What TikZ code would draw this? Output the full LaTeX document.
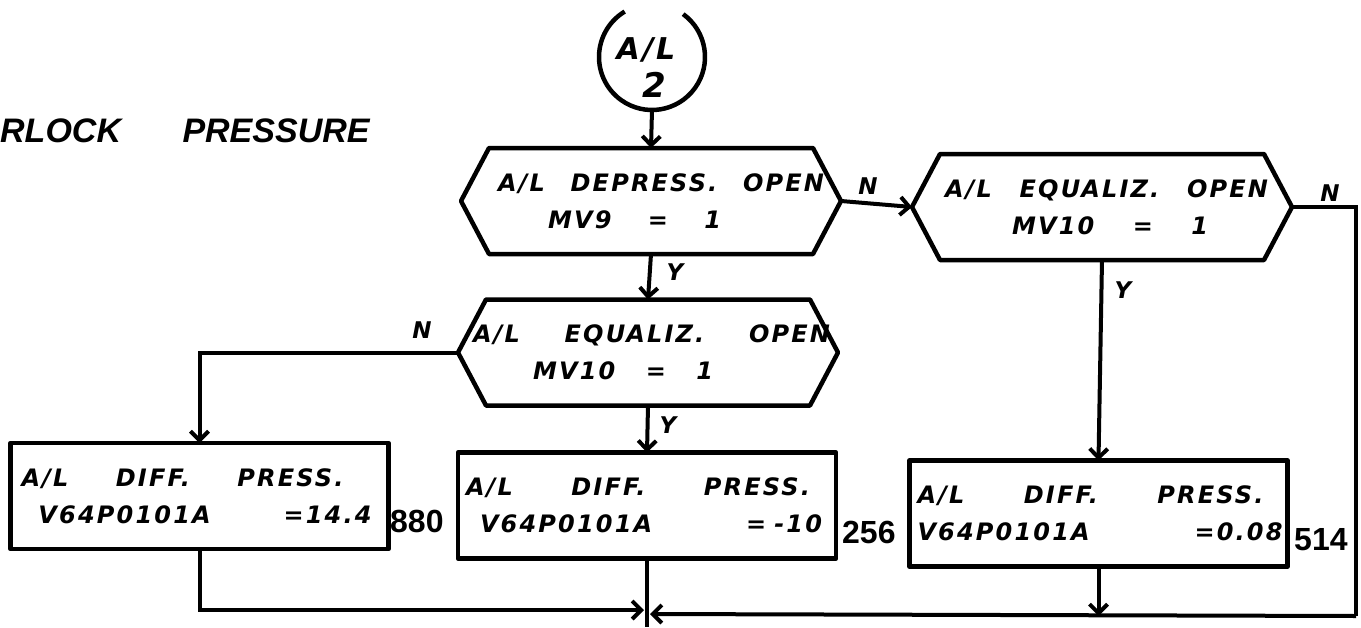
\documentclass[tikz,border=0pt]{standalone}
\usepackage{fontspec}
\setmainfont{Liberation Sans}
\newfontfamily\hand[LetterSpace=9]{DejaVu Sans}
\newfontfamily\titlefont{Liberation Sans}
\usetikzlibrary{arrows.meta}
\newcommand\handtxt{\hand\bfseries\itshape\fontsize{24}{37}\selectfont}
\newcommand\handlab{\hand\bfseries\itshape\fontsize{23}{24}\selectfont}
\newcommand\numtxt{\bfseries\fontsize{32}{32}\selectfont}
\newcommand\tline[3]{\hspace*{#1}\makebox[#2][l]{#3}}
\newcommand\hexdraw[1]{\draw[shapeline] (#1.north west) -- (#1.north east) -- (#1r) -- (#1.south east) -- (#1.south west) -- (#1l) -- cycle;}
\tikzset{
  shapeline/.style={line width=4.5pt, line join=round},
  conn/.style={line width=4pt, -{Straight Barb[length=9pt,width=18pt]}},
  plainline/.style={line width=4pt},
  hexcore/.style={rectangle, inner sep=0pt, outer sep=0pt, text width=324pt, minimum height=106pt, align=left, font=\handtxt},
  boxnode/.style={draw, shapeline, rectangle, inner sep=0pt, outer sep=0pt, text width=378pt, minimum height=106pt, align=left, font=\handtxt},
  lab/.style={font=\handlab, inner sep=0pt},
  num/.style={font=\numtxt, inner sep=0pt, anchor=west},
}
\begin{document}
\begin{tikzpicture}[x=1pt,y=-1pt]
\fill[white] (0,0) rectangle (1361,627);
\useasboundingbox (0,0) rectangle (1361,627);

% title
\node[anchor=base west, inner sep=0pt, font=\titlefont\bfseries\itshape\fontsize{34}{34}\selectfont] (title) at (0,142) {RLOCK\hspace{52pt} PRESSURE};

% connector circle
\node[circle, minimum size=106pt, inner sep=0pt, outer sep=0pt] (c) at (652,57) {};
\draw[shapeline] (c.54) arc[start angle=54, end angle=-239, radius=53pt];
\node[inner sep=0pt, font=\hand\bfseries\itshape\fontsize{30}{30}\selectfont] (ctop) at (646,50) {A/L};
\node[inner sep=0pt, font=\hand\bfseries\itshape\fontsize{34}{34}\selectfont] (cbot) at (654,85) {2};

% decisions
\node[hexcore] (h1) at (651,201) {\tline{9pt}{326pt}{A/L\hfill DEPRESS.\hfill OPEN}\\\tline{59pt}{173pt}{MV9\hfill =\hfill 1}};
\coordinate (h1l) at ([xshift=-28pt]h1.west);
\coordinate (h1r) at ([xshift=28pt]h1.east);
\hexdraw{h1}

\node[hexcore] (h2) at (648,352.5) {\tline{-13pt}{357pt}{A/L\hfill EQUALIZ.\hfill OPEN}\\\tline{47pt}{180pt}{MV10\hfill =\hfill 1}};
\coordinate (h2l) at ([xshift=-28pt]h2.west);
\coordinate (h2r) at ([xshift=28pt]h2.east);
\hexdraw{h2}

\node[hexcore] (h3) at (1102,207) {\tline{5pt}{323pt}{A/L\hfill EQUALIZ.\hfill OPEN}\\\tline{72pt}{196pt}{MV10\hfill =\hfill 1}};
\coordinate (h3l) at ([xshift=-28pt]h3.west);
\coordinate (h3r) at ([xshift=28pt]h3.east);
\hexdraw{h3}

% process boxes
\node[boxnode] (lb) at (199.5,496) {\tline{11pt}{322pt}{A/L\hfill DIFF.\hfill PRESS.}\\\tline{28pt}{333pt}{V64P0101A\hfill =14.4}};
\node[boxnode] (mb) at (647,505.5) {\tline{8pt}{344pt}{A/L\hfill DIFF.\hfill PRESS.}\\\tline{22pt}{342pt}{V64P0101A\hfill = -10}};
\node[boxnode] (rb) at (1098.5,513.5) {\tline{8pt}{346pt}{A/L\hfill DIFF.\hfill PRESS.}\\\tline{8pt}{365pt}{V64P0101A\hfill =0.08}};

\node[num] (n880) at (390,521) {880};
\node[num] (n256) at (842,532) {256};
\node[num] (n514) at (1294,540) {514};

% junction coordinates
\coordinate (jl) at (644,610);
\coordinate (jr) at (650,614);
\coordinate (rc) at (1356,616);
\coordinate (rbj) at (1098.5,616);
\coordinate (mend) at (647,627);

% connectors
\draw[conn] (c.south) -- (h1.north);
\draw[conn] (h1.south) -- (h2.north);
\draw[conn] (h1r) -- (h3l);
\draw[conn] (h2.south) -- (mb.north);
\draw[conn] (h3.south) -- (rb.north);
\draw[conn] (h2l) -| (lb.north);
\draw[plainline] (h3r) -| (rc);
\draw[conn] (rc) -- (jr);
\draw[conn] (lb.south) |- (jl);
\draw[conn] (rb.south) -- (rbj);
\draw[plainline] (mb.south) -- (mend);

% branch labels
\node[lab] (lN1) at (868,186) {N};
\node[lab] (lY1) at (675,272) {Y};
\node[lab] (lN2) at (422,330) {N};
\node[lab] (lY2) at (668,425) {Y};
\node[lab] (lY3) at (1123,290) {Y};
\node[lab] (lN3) at (1330,193) {N};
\end{tikzpicture}
\end{document}
